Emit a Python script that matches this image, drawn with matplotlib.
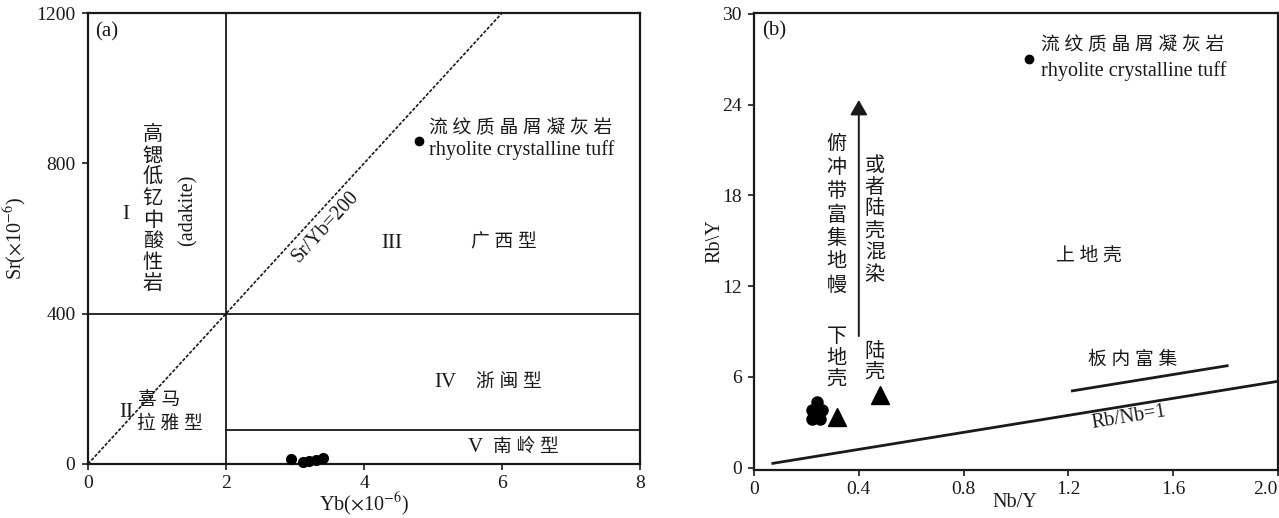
import matplotlib
matplotlib.use("Agg")
import matplotlib.pyplot as plt

plt.rcParams["font.family"] = ["Liberation Serif", "Noto Sans CJK SC"]
plt.rcParams["mathtext.fontset"] = "stix"

INK = "#1a1a1a"

# (a) Sr - Yb discrimination
yb_tuff = [2.94, 3.11, 3.20, 3.30, 3.41]
sr_tuff = [12, 4, 8, 11, 17]
yb_ref = [4.80]
sr_ref = [860]
sr_yb_ratio = 200
sr_split = 400
sr_nanling = 90
yb_split = 2

# (b) Rb/Y - Nb/Y
nb_y_tuff = [0.24, 0.22, 0.26, 0.22, 0.25, 0.24]
rb_y_tuff = [4.35, 3.8, 3.8, 3.2, 3.2, 3.55]
nb_y_ref = [1.048]
rb_y_ref = [27.0]
nb_y_crust = [0.315, 0.48]
rb_y_crust = [3.38, 4.8]
rbnb_line_x = [0.072, 1.996]
rbnb_line_y = [0.29, 5.7]
intraplate_x = [1.215, 1.806]
intraplate_y = [5.08, 6.74]
arrow_from = (0.4, 8.7)
arrow_to = (0.4, 24.3)

LAT = 14.5   # latin label size
CJK = 13.5   # chinese label size


def vtext(ax, x, y, s, step, size=14.5):
    # stack characters top to bottom, step in pixels
    for i, ch in enumerate(s):
        ax.annotate(ch, (x, y), xytext=(0, -i * step * 0.72),
                    textcoords="offset points", ha="center", va="center",
                    fontsize=size, color=INK)


def style_axes(ax):
    for sp in ax.spines.values():
        sp.set_linewidth(1.6)
        sp.set_color(INK)
    ax.tick_params(direction="out", length=4, width=1.2, labelsize=14,
                   colors=INK, pad=5)
    ax.tick_params(axis="x", pad=4)


fig = plt.figure(figsize=(12.79, 5.18), dpi=100)
ax1 = fig.add_axes([88 / 1279, 54 / 518, 552 / 1279, 451 / 518])
ax2 = fig.add_axes([754 / 1279, 48 / 518, 524 / 1279, 457 / 518])

# ---- panel a ----
ax1.set_xlim(0, 8)
ax1.set_ylim(0, 1200)
ax1.set_xticks([0, 2, 4, 6, 8])
ax1.set_yticks([0, 400, 800, 1200])
style_axes(ax1)

ax1.axvline(yb_split, color=INK, lw=1.3)
ax1.axhline(sr_split, color=INK, lw=1.3)
ax1.plot([yb_split, 8], [sr_nanling, sr_nanling], color=INK, lw=1.3)
ax1.plot([0, 1200 / sr_yb_ratio], [0, 1200], color=INK, lw=1.2,
         linestyle=(0, (2, 1)))

ax1.plot(yb_tuff, sr_tuff, "o", color="k", ms=7, clip_on=False, zorder=5)
ax1.plot(yb_ref, sr_ref, "o", color="k", ms=6, zorder=5)

ax1.text(0.1, 1150, "(a)", fontsize=15, color=INK, va="center")
ax1.text(4.94, 894, "流 纹 质 晶 屑 凝 灰 岩", fontsize=CJK, color=INK, va="center")
ax1.text(4.94, 836, "rhyolite crystalline tuff", fontsize=LAT, color=INK, va="center")

ax1.text(0.55, 663, "I", fontsize=15, color=INK, ha="center", va="center")
vtext(ax1, 0.94, 873, "高锶低钇中酸性岩", 21.3)
ax1.text(1.45, 676, "(adakite)", fontsize=LAT, color=INK, rotation=90,
         ha="center", va="center")
ax1.text(0.56, 136, "II", fontsize=15, color=INK, ha="center", va="center")
ax1.text(0.72, 170, "喜 马", fontsize=CJK, color=INK, va="center")
ax1.text(0.71, 106, "拉 雅 型", fontsize=CJK, color=INK, va="center")
ax1.text(3.45, 632, "Sr/Yb=200", fontsize=LAT, color=INK, rotation=47.6,
         ha="center", va="center")
ax1.text(4.40, 588, "III", fontsize=15, color=INK, ha="center", va="center")
ax1.text(6.03, 588, "广 西 型", fontsize=CJK, color=INK, ha="center", va="center")
ax1.text(5.18, 218, "IV", fontsize=15, color=INK, ha="center", va="center")
ax1.text(6.1, 218, "浙 闽 型", fontsize=CJK, color=INK, ha="center", va="center")
ax1.text(5.62, 45, "V", fontsize=15, color=INK, ha="center", va="center")
ax1.text(6.35, 45, "南 岭 型", fontsize=CJK, color=INK, ha="center", va="center")

ax1.set_xlabel(r"Yb($\times$10$^{-6}$)", fontsize=LAT, color=INK)
ax1.set_ylabel(r"Sr($\times$10$^{-6}$)", fontsize=LAT, color=INK)
ax1.xaxis.set_label_coords(0.5, -0.09)
ax1.yaxis.set_label_coords(-0.132, 0.5)
ax1.xaxis.label.set_va("center")
ax1.yaxis.label.set_va("center")

# ---- panel b ----
ax2.set_xlim(0, 2.0)
ax2.set_ylim(-0.15, 30.05)
ax2.set_xticks([0, 0.4, 0.8, 1.2, 1.6, 2.0])
ax2.set_xticklabels(["0", "0.4", "0.8", "1.2", "1.6", "2.0"])
ax2.set_yticks([0, 6, 12, 18, 24, 30])
style_axes(ax2)
# keep the last tick label inside the figure edge
ax2.get_xticklabels()[-1].set_ha("right")

ax2.plot(rbnb_line_x, rbnb_line_y, color=INK, lw=2.0)
ax2.plot(intraplate_x, intraplate_y, color=INK, lw=2.0)
ax2.annotate("", xy=arrow_to, xytext=arrow_from,
             arrowprops=dict(arrowstyle="-|>,head_length=0.9,head_width=0.52",
                             mutation_scale=10, lw=1.4, color=INK,
                             shrinkA=0, shrinkB=0))

ax2.plot(nb_y_tuff, rb_y_tuff, "o", color="k", ms=8, zorder=5)
ax2.plot(nb_y_crust, rb_y_crust, "^", color="k", ms=12.5, zorder=5)
ax2.plot(nb_y_ref, rb_y_ref, "o", color="k", ms=6, zorder=5)

ax2.text(0.03, 28.9, "(b)", fontsize=15, color=INK, va="center")
ax2.text(1.097, 27.9, "流 纹 质 晶 屑 凝 灰 岩", fontsize=CJK, color=INK, va="center")
ax2.text(1.097, 26.2, "rhyolite crystalline tuff", fontsize=LAT, color=INK, va="center")

vtext(ax2, 0.316, 21.3, "俯冲带富集地幔", 23.5)
vtext(ax2, 0.461, 19.9, "或者陆壳混染", 21.7)
vtext(ax2, 0.316, 8.6, "下地壳", 21.5)
vtext(ax2, 0.461, 7.6, "陆壳", 20)
ax2.text(1.28, 14.0, "上 地 壳", fontsize=CJK, color=INK, ha="center", va="center")
ax2.text(1.444, 7.1, "板 内 富 集", fontsize=CJK, color=INK, ha="center", va="center")
ax2.text(1.432, 3.3, "Rb/Nb=1", fontsize=LAT, color=INK, rotation=9.2,
         ha="center", va="center")

ax2.set_xlabel("Nb/Y", fontsize=LAT, color=INK)
ax2.set_ylabel("Rb\\Y", fontsize=LAT, color=INK)
ax2.xaxis.set_label_coords(0.498, -0.072)
ax2.yaxis.set_label_coords(-0.074, 0.5)
ax2.xaxis.label.set_va("center")
ax2.yaxis.label.set_va("center")

fig.savefig("out.png", dpi=100)
